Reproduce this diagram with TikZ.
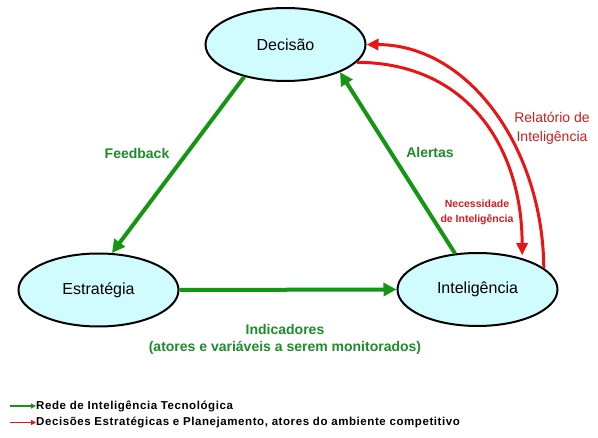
\documentclass[tikz,border=0pt]{standalone}
\usepackage{fontspec}
\setmainfont{Liberation Sans}
\newfontfamily\legfont[LetterSpace=5]{Liberation Sans}
\usetikzlibrary{shapes.geometric,arrows.meta}
\definecolor{cellfill}{RGB}{208,252,255}
\definecolor{garrow}{RGB}{20,150,20}
\definecolor{gtext}{RGB}{30,140,40}
\definecolor{rarrow}{RGB}{235,20,20}
\definecolor{rtext}{RGB}{210,30,30}
\tikzset{
  cell/.style={ellipse, draw=black, line width=2pt, fill=cellfill, inner sep=0pt,
    minimum width=160pt, minimum height=73pt, font=\fontsize{16}{19}\selectfont},
  garr/.style={draw=garrow, line width=4pt, -{Triangle[length=13pt,width=13pt]}},
  rarr/.style={draw=rarrow, line width=3pt, -{Triangle[length=12pt,width=11pt]}},
  glabel/.style={text=gtext, font=\bfseries\fontsize{14}{17}\selectfont, align=center},
  rlabel/.style={text=rtext, font=\fontsize{14}{19}\selectfont, align=center},
  rsmall/.style={text=rtext, font=\bfseries\fontsize{10.5}{15}\selectfont, align=center},
  legtext/.style={anchor=west, inner sep=0pt, font=\legfont\bfseries\fontsize{11.5}{14}\selectfont},
}
\begin{document}
\begin{tikzpicture}[x=1pt,y=-1pt]
\useasboundingbox[fill=white] (0,0) rectangle (598,438);
\node[cell] (dec) at (285.5,44.5) {Decisão};
\node[cell] (estr) at (98.5,290) {Estratégia};
\node[cell] (intel) at (477.5,289.5) {Inteligência};
% green connectors
\draw[garr] (dec.218.7) -- (estr.70);
\draw[garr] (intel.122.6) -- (dec.-27);
\draw[garr] (estr.east) -- (intel.west);
% red connectors
\draw[rarr] (intel.18) .. controls (543,150) and (470,45) .. (dec.east);
\draw[rarr, shorten >=3pt] (dec.-14) .. controls (470,63) and (522,150) .. (intel.35);
% labels
\node[glabel] (lfb) at (137,153) {Feedback};
\node[glabel] (lal) at (430,152) {Alertas};
\node[glabel] (lind) at (285,339) {Indicadores\\(atores e variáveis a serem monitorados)};
\node[rlabel] (lrel) at (552,128) {Relatório de\\Inteligência};
\node[rsmall] (lnec) at (477,212) {Necessidade\\de Inteligência};
% legend
\coordinate (g1) at (10,406);
\coordinate (r1) at (10,422.5);
\node[legtext] (lg) at (36,406) {Rede de Inteligência Tecnológica};
\node[legtext] (lr) at (36,422.5) {Decisões Estratégicas e Planejamento, atores do ambiente competitivo};
\draw[draw=garrow, line width=1.5pt, -{Triangle[length=5pt,width=5pt]}] (g1) -- (lg.west);
\draw[draw=rarrow, line width=1.5pt, -{Triangle[length=5pt,width=5pt]}] (r1) -- (lr.west);
\end{tikzpicture}
\end{document}
